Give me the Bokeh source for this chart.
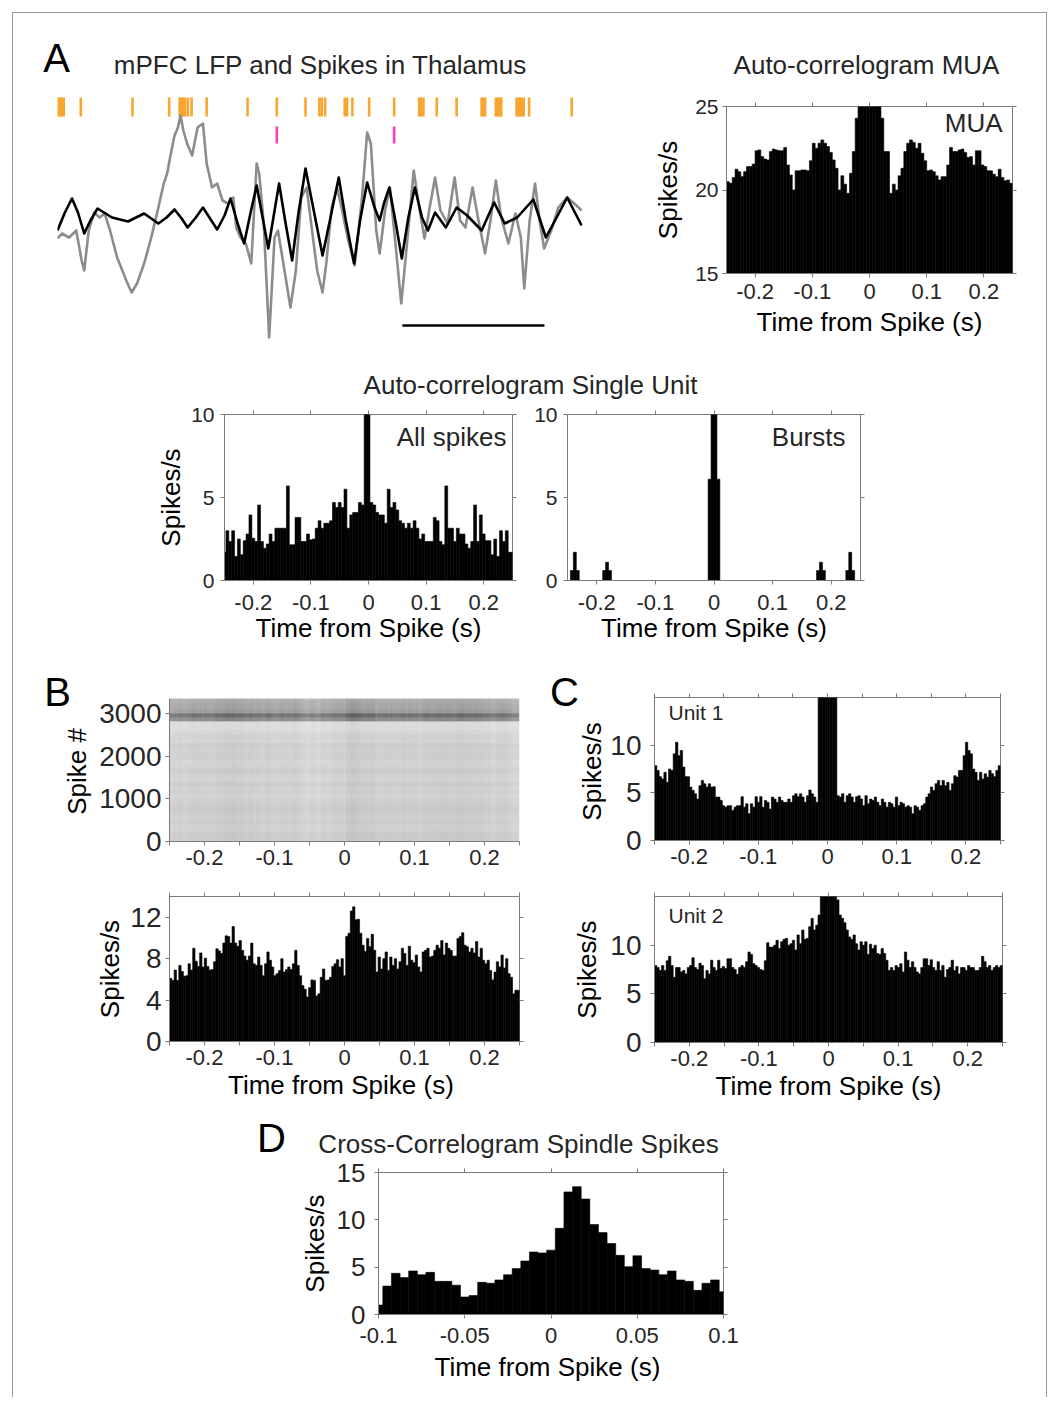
import math
import numpy as np
from bokeh.plotting import figure
from bokeh.models import Range1d, LinearAxis, FixedTicker, Label, Spacer, LinearColorMapper
from bokeh.layouts import row, column
from bokeh.palettes import Greys256
from bokeh.embed import file_html
from bokeh.resources import INLINE

# ======================= DATA =======================
# Panel A: mPFC LFP (time in ms, amplitude in arbitrary units)
lfp_filt_t = [0, 26, 51, 72, 94, 116, 141, 192, 248, 305, 355, 384, 412, 437, 458, 487, 512, 537, 562, 588,
              609, 634, 657, 679, 701, 722, 742, 760, 780, 803, 826, 848, 873, 902, 933, 961, 990, 1015, 1044, 1065,
              1090, 1116, 1134, 1149, 1168, 1191, 1212, 1235, 1258, 1283, 1304, 1329, 1367, 1405, 1442, 1493, 1537,
              1574, 1618, 1675, 1719, 1757, 1794, 1845]
lfp_filt_v = [0, 18, 32, 18, -3, 10, 22, 13, 9, 17, 7, 13, 21, 12, 3, 13, 23, 12, 1, 15,
              32, 7, -13, 17, 45, 13, -18, 13, 47, 7, -30, 17, 62, 20, -25, 13, 53, 10, -33, 10,
              48, 23, 10, 27, 43, 7, -28, 13, 43, 13, 0, 18, 3, 23, 15, 0, 28, 7, 13, 31, -7, 13, 33, 5]
lfp_raw_t = [0, 16, 41, 66, 85, 94, 110, 129, 148, 166, 185, 210, 242, 261, 280, 305, 330, 355, 374, 386,
             399, 412, 424, 433, 443, 456, 474, 493, 512, 525, 544, 562, 581, 600, 619, 629, 644, 663, 682, 701,
             710, 726, 745, 764, 776, 795, 820, 839, 858, 877, 896, 914, 933, 946, 965, 984, 1002, 1021, 1046, 1072,
             1090, 1103, 1122, 1134, 1153, 1170, 1191, 1210, 1229, 1254, 1273, 1292, 1310, 1329, 1348, 1373, 1398,
             1417, 1436, 1461, 1480, 1505, 1524, 1543, 1562, 1587, 1612, 1631, 1643, 1662, 1681, 1697, 1713, 1738,
             1763, 1794, 1819, 1845]
lfp_raw_v = [-8, -3, -7, 0, -30, -40, 0, 18, 13, 17, 0, -27, -50, -62, -53, -33, -7, 23, 47, 57,
             77, 95, 103, 115, 100, 87, 75, 103, 107, 67, 43, 47, 30, 27, 33, 3, -7, -13, -33, 67,
             57, 7, -107, -7, 0, -33, -77, -40, 33, 43, 0, -40, -62, -33, 23, 43, 20, -7, -35, 33,
             98, 87, 0, -23, 20, 43, -17, -73, -17, 60, 23, -8, 23, 53, 20, 7, 53, 10, 3, 43,
             13, -23, 10, 50, 13, -13, 17, -7, -58, 10, 47, 10, -18, 0, 23, 33, 27, 20]
mua_spike_times = [3, 9, 15, 22, 82, 264, 393, 430, 437, 443, 449, 459, 472, 525, 669, 772, 873, 922, 930, 942,
                   1011, 1019, 1038, 1097, 1185, 1273, 1279, 1288, 1335, 1405, 1493, 1499, 1505, 1543, 1549,
                   1556, 1562, 1616, 1622, 1628, 1634, 1641, 1660, 1810]
unit_spike_times = [772, 1185]
scale_bar_start_ms = 1214
scale_bar_ms = 500

# Panel A right: MUA auto-correlogram (100 bins of 5 ms, -0.25..0.25 s)
mua_rate = [20.5, 20.4, 20.75, 21.25, 21.1, 20.8, 21.1, 21.4, 21.4, 21.55,
            22.35, 22.4, 22.0, 21.85, 21.8, 22.3, 22.45, 22.4, 22.35, 22.35,
            22.55, 21.5, 20.9, 20.0, 21.15, 21.15, 21.2, 21.2, 21.15, 21.75,
            22.8, 22.5, 22.8, 23.0, 22.8, 22.6, 22.25, 21.8, 21.3, 20.0,
            20.85, 20.35, 19.8, 21.0, 22.3, 24.3, 27, 27, 27, 27,
            27, 27, 27, 27, 24.3, 22.3, 22.3, 19.8, 20.35, 20.0,
            20.85, 21.3, 22.3, 22.8, 23.0, 22.85, 22.5, 22.8, 22.2, 21.75,
            21.15, 21.2, 21.1, 20.85, 20.6, 20.8, 20.8, 21.5, 22.55, 22.3,
            22.3, 22.4, 22.45, 22.25, 21.95, 22.0, 21.5, 22.35, 22.35, 21.5,
            21.4, 21.15, 21.15, 20.95, 20.8, 21.25, 20.75, 20.55, 20.6, 20.4]

# Single unit auto-correlogram, all spikes (bins centred on multiples of 5 ms)
single_all_rate = [1.7, 3.0, 2.35, 3.0, 1.45, 2.5, 1.55, 2.4, 2.8, 3.95,
                   2.55, 2.35, 4.55, 2.35, 1.95, 2.2, 2.8, 2.35, 3.15, 3.15,
                   3.15, 3.15, 5.7, 2.15, 2.15, 3.8, 3.8, 2.35, 2.35, 2.8,
                   2.45, 2.5, 3.15, 3.6, 3.15, 3.45, 3.45, 3.6, 4.7, 4.4,
                   4.7, 4.4, 5.5, 3.15, 3.95, 4.1, 4.1, 4.7, 4.55, 12,
                   12, 4.7, 4.55, 4.1, 3.95, 3.95, 3.45, 5.5, 4.4, 4.7,
                   4.25, 3.6, 3.45, 3.15, 3.45, 3.15, 3.6, 3.15, 2.5, 2.8,
                   2.35, 2.35, 2.35, 3.8, 3.6, 2.35, 2.15, 5.7, 3.15, 3.15,
                   2.35, 3.15, 2.8, 2.8, 2.2, 1.95, 2.35, 4.55, 2.35, 3.95,
                   2.8, 2.4, 2.4, 1.55, 2.5, 1.45, 3.0, 2.35, 3.0, 1.7, 1.7]

# Bursts auto-correlogram (only non-empty 5 ms bins)
burst_bin_centers = [-0.2425, -0.2375, -0.2325, -0.1875, -0.1825, -0.1775, -0.0075, -0.0025,
                     0.0025, 0.0075, 0.1775, 0.1825, 0.1875, 0.2275, 0.2325, 0.2375]
burst_rate = [0.6, 1.7, 0.6, 0.6, 1.1, 0.6, 6.1, 12, 12, 6.1, 0.6, 1.1, 0.6, 0.6, 1.7, 0.6]

# Panel B raster: fraction of ink per block of 100 spikes (bottom to top)
raster_block_size = 100
raster_block_ink = [0.2, 0.21, 0.19, 0.18, 0.2, 0.19, 0.2, 0.21, 0.2, 0.19,
                    0.17, 0.19, 0.18, 0.2, 0.17, 0.18, 0.2, 0.18, 0.17, 0.19,
                    0.19, 0.18, 0.2, 0.17, 0.18, 0.16, 0.14, 0.14, 0.45, 0.55,
                    0.38, 0.35, 0.33, 0.3]

# Panel B histogram (151 bins over -0.25..0.25 s)
pop_rate_B = [6.1, 5.9, 6.9, 5.9, 7.35, 6.75, 6.3, 6.35, 7.5, 6.9,
              9.0, 7.75, 7.25, 8.55, 7.2, 8.05, 7.25, 6.9, 6.95, 7.7,
              8.95, 8.75, 8.5, 9.5, 10.2, 10.15, 9.5, 11.1, 9.5, 9.2,
              9.75, 8.8, 8.25, 7.85, 8.25, 9.5, 7.5, 7.35, 8.15, 7.35,
              6.35, 7.5, 8.65, 7.85, 7.2, 6.35, 6.55, 6.85, 8.0, 6.7,
              6.95, 7.2, 6.95, 7.5, 8.8, 7.35, 6.35, 5.4, 5.05, 4.3,
              5.2, 5.95, 5.9, 4.4, 4.6, 6.2, 7.0, 5.9, 5.95, 6.2,
              7.25, 7.5, 7.9, 7.2, 8.0, 6.35, 10.15, 10.45, 12.6, 13.0,
              11.75, 11.8, 10.45, 9.3, 8.7, 9.95, 9.15, 10.35, 8.8, 6.7,
              8.15, 7.0, 8.0, 8.65, 6.85, 8.15, 7.35, 8.0, 7.0, 7.7,
              9.0, 8.5, 7.35, 9.2, 7.85, 7.6, 8.35, 7.2, 6.7, 8.65,
              8.8, 9.0, 8.15, 8.25, 8.8, 9.3, 9.0, 9.75, 8.35, 9.5,
              9.0, 8.8, 8.25, 8.25, 9.95, 10.15, 10.5, 9.3, 9.15, 8.65,
              9.0, 8.55, 9.65, 8.15, 9.0, 7.85, 7.5, 7.85, 6.85, 5.95,
              6.7, 7.7, 7.2, 8.35, 7.1, 8.0, 6.55, 6.2, 4.6, 4.95, 4.95]

# Panel C
unit1_rate = [7.85, 7.35, 6.7, 6.45, 7.15, 6.1, 7.5, 7.35, 9.1, 10.3,
              8.9, 9.45, 7.7, 6.7, 6.7, 5.6, 5.25, 4.9, 4.35, 5.75,
              6.3, 5.95, 5.6, 5.95, 5.6, 5.65, 4.55, 4.55, 4.2, 3.65,
              3.5, 3.65, 3.65, 3.15, 3.5, 3.65, 3.65, 4.6, 3.5, 3.85,
              2.8, 3.85, 3.5, 4.6, 4.0, 4.6, 3.5, 4.2, 4.0, 3.3,
              4.55, 4.35, 4.0, 4.55, 4.2, 4.0, 4.0, 4.35, 4.0, 4.7,
              4.9, 4.6, 4.9, 4.55, 4.0, 4.7, 5.3, 4.9, 4.55, 4.0,
              18, 18, 18, 18, 18, 18, 18, 18, 4.7, 4.55,
              4.9, 4.0, 4.7, 4.9, 4.55, 4.0, 4.6, 4.7, 4.35, 3.65,
              4.7, 3.85, 4.35, 4.2, 4.55, 4.0, 3.65, 4.35, 4.0, 3.5,
              4.0, 3.85, 3.5, 4.55, 3.65, 4.0, 3.85, 3.5, 3.65, 3.5,
              2.8, 3.65, 3.5, 3.15, 3.65, 3.85, 4.55, 4.9, 5.6, 5.25,
              5.95, 6.3, 5.75, 6.3, 5.75, 6.1, 5.25, 5.95, 6.8, 6.65,
              7.35, 7.35, 8.9, 10.3, 9.45, 9.1, 7.5, 7.15, 6.3, 7.15,
              6.45, 7.0, 6.65, 7.35, 7.0, 6.7, 7.35, 7.85]
unit2_rate = [7.9, 7.7, 7.4, 7.9, 7.4, 8.4, 8.85, 7.9, 6.7, 7.7,
              7.7, 7.25, 7.4, 7.05, 7.7, 7.9, 8.7, 7.7, 7.5, 8.15,
              7.9, 6.55, 7.4, 7.05, 8.45, 7.7, 7.4, 8.45, 7.6, 7.8,
              7.6, 8.6, 8.6, 7.7, 7.5, 7.0, 7.7, 7.9, 7.7, 8.3,
              9.3, 9.05, 8.1, 7.9, 7.7, 7.5, 7.4, 8.4, 10.25, 9.8,
              9.8, 10.0, 10.5, 9.65, 10.35, 10.6, 10.7, 10.0, 10.15, 10.5,
              9.5, 11.05, 10.15, 11.55, 10.6, 10.7, 11.9, 12.75, 11.55, 12.05,
              13.1, 17, 17, 17, 17, 17, 17, 17, 14.65, 13.1,
              12.75, 12.3, 11.55, 10.85, 10.6, 11.05, 10.15, 9.5, 10.35, 10.0,
              10.35, 9.05, 10.1, 9.65, 10.0, 9.15, 9.05, 9.65, 9.15, 8.45,
              7.4, 7.7, 7.4, 7.9, 7.7, 8.1, 7.25, 9.3, 8.45, 7.7,
              8.3, 7.7, 7.25, 7.05, 7.7, 8.6, 8.6, 7.9, 8.5, 7.7,
              7.4, 8.3, 7.4, 7.9, 6.7, 7.5, 7.7, 8.45, 7.4, 7.8,
              7.05, 7.7, 7.7, 7.4, 7.9, 7.7, 7.7, 7.4, 7.4, 7.7,
              8.85, 8.3, 7.7, 7.9, 7.4, 7.7, 7.9, 7.7, 7.9]

# Panel D cross-correlogram (5 ms bins centred on -0.1 .. 0.1 s)
cross_rate_D = [1.0, 3.0, 4.35, 3.9, 4.6, 4.2, 4.45, 3.5, 3.5, 3.1,
                1.85, 2.0, 3.4, 3.3, 3.65, 4.2, 4.85, 5.65, 6.6, 6.5,
                6.8, 9.1, 12.95, 13.5, 12.2, 9.5, 8.65, 7.5, 6.25, 5.05,
                6.2, 4.85, 4.7, 4.2, 4.6, 3.65, 3.5, 2.55, 3.3, 3.65, 2.4]

lag_ticks_01 = [-0.2, -0.1, 0, 0.1, 0.2]
lag_ticks_005 = [-0.25, -0.2, -0.15, -0.1, -0.05, 0, 0.05, 0.1, 0.15, 0.2, 0.25]
lag_ticks_D = [-0.1, -0.05, 0, 0.05, 0.1]

# ======================= STYLE =======================
FONT = "Liberation Sans"
AX = "#7a7a7a"
TXT = "#262626"
ORANGE = "#f8a531"
PINK = "#ff3fb2"
XT = 22  # x tick label size
GEO = {}


def fmt(t):
    if abs(t) < 1e-12:
        return "0"
    return ("%.3f" % t).rstrip("0").rstrip(".")


def make_plot(canvas, frame, xr, yr, axes=True, outline=True):
    cx0, cy0, cx1, cy1 = canvas
    fx0, fy0, fx1, fy1 = frame
    kw = dict(width=cx1 - cx0, height=cy1 - cy0, x_range=Range1d(*xr), y_range=Range1d(*yr),
              output_backend="svg", toolbar_location=None, title=None, frame_align=False,
              min_border_left=fx0 - cx0, min_border_right=cx1 - fx1,
              min_border_top=fy0 - cy0, min_border_bottom=cy1 - fy1)
    if not axes:
        kw.update(x_axis_type=None, y_axis_type=None)
    p = figure(**kw)
    p.grid.visible = False
    p.outline_line_color = AX if outline else None
    p.background_fill_color = "white"
    p.border_fill_color = "white"
    GEO[p.id] = (frame, xr, yr)
    return p


def text_fig(canvas):
    w = canvas[2] - canvas[0]
    h = canvas[3] - canvas[1]
    return make_plot(canvas, canvas, (0, w), (0, h), axes=False, outline=False)


def style_axis(ax, ticks, labeled, size, label=None, lab_standoff=2, standoff=4):
    ax.ticker = FixedTicker(ticks=ticks)
    ax.major_label_overrides = {t: (fmt(t) if any(abs(t - l) < 1e-9 for l in labeled) else "") for t in ticks}
    ax.axis_line_color = AX
    ax.major_tick_line_color = AX
    ax.major_tick_in = 0
    ax.major_tick_out = 4
    ax.minor_tick_line_color = None
    ax.major_label_standoff = standoff
    ax.major_label_text_font = FONT
    ax.major_label_text_font_size = f"{size}px"
    ax.major_label_text_color = TXT
    if label is not None:
        ax.axis_label = label
        ax.axis_label_text_font = FONT
        ax.axis_label_text_font_size = "26px"
        ax.axis_label_text_font_style = "normal"
        ax.axis_label_text_color = "#000000"
        ax.axis_label_standoff = lab_standoff


def mirror(p, xticks, yticks):
    for ticks, side in ((xticks, "above"), (yticks, "right")):
        a = LinearAxis(ticker=FixedTicker(ticks=ticks),
                       major_label_overrides={t: "" for t in ticks},
                       major_label_text_font_size="1px", major_label_standoff=0,
                       axis_line_color=None, major_tick_line_color=AX,
                       major_tick_in=0, major_tick_out=4, minor_tick_line_color=None)
        p.add_layout(a, side)


def put_text(p, ix, iy, s, size, align="center", color=TXT, angle=0.0):
    """iy is the vertical centre of the capitals, in page pixels."""
    (fx0, fy0, fx1, fy1), (x0, x1), (y0, y1) = GEO[p.id]
    dx = x0 + (ix - fx0) * (x1 - x0) / (fx1 - fx0)
    dy = y1 - (iy - fy0) * (y1 - y0) / (fy1 - fy0)
    p.add_layout(Label(x=dx, y=dy, text=s, text_font=FONT, text_font_size=f"{size}px",
                       text_align=align, text_baseline="middle", text_color=color, angle=angle))


def bars(p, centers, vals, width, bottom):
    p.vbar(x=centers, top=vals, width=width, bottom=bottom,
           fill_color="black", line_color="black", line_width=0.6)


def centers_for(n, lo, hi):
    w = (hi - lo) / n
    return [lo + (i + 0.5) * w for i in range(n)], w


# ======================= TITLES (row A) =======================
t1 = text_fig((13, 13, 1046, 88))
put_text(t1, 56, 57, "A", 40, color="#000000")
put_text(t1, 320, 64, "mPFC LFP and Spikes in Thalamus", 26)
put_text(t1, 866, 64, "Auto-correlogram MUA", 26)

# ======================= PANEL A: traces =======================
pA = make_plot((13, 88, 640, 355), (57, 92, 582, 342), (0, 1848), (-112, 138), axes=False, outline=False)
pA.segment(x0=mua_spike_times, x1=mua_spike_times, y0=[114] * len(mua_spike_times),
           y1=[133] * len(mua_spike_times), line_color=ORANGE, line_width=2.6)
pA.segment(x0=unit_spike_times, x1=unit_spike_times, y0=[87] * len(unit_spike_times),
           y1=[104] * len(unit_spike_times), line_color=PINK, line_width=2.6)
pA.line(lfp_raw_t, lfp_raw_v, line_color="#8c8c8c", line_width=2.6, line_join="round")
pA.line(lfp_filt_t, lfp_filt_v, line_color="black", line_width=2.6, line_join="round")
pA.segment(x0=[scale_bar_start_ms], x1=[scale_bar_start_ms + scale_bar_ms], y0=[-95], y1=[-95],
           line_color="black", line_width=2.6)

# ======================= PANEL A: MUA =======================
pM = make_plot((640, 88, 1046, 355), (726, 106, 1012, 273), (-0.25, 0.25), (15, 25))
c, w = centers_for(len(mua_rate), -0.25, 0.25)
bars(pM, c, mua_rate, w, 15)
style_axis(pM.xaxis[0], lag_ticks_01, lag_ticks_01, XT, "Time from Spike (s)", 5, standoff=6)
style_axis(pM.yaxis[0], [15, 20, 25], [15, 20, 25], 21, "Spikes/s", 9)
mirror(pM, lag_ticks_01, [15, 20, 25])
put_text(pM, 1002, 122, "MUA", 26, align="right")

# strip with the single unit title
t2 = text_fig((13, 355, 1046, 400))
put_text(t2, 530, 384, "Auto-correlogram Single Unit", 26)

# All spikes
pAll = make_plot((13, 400, 530, 657), (224, 414, 512, 580), (-0.25, 0.25), (0, 10))
c_all = [-0.25 + 0.005 * k for k in range(len(single_all_rate))]
bars(pAll, c_all, single_all_rate, 0.005, 0)
style_axis(pAll.xaxis[0], lag_ticks_01, lag_ticks_01, XT, "Time from Spike (s)", 0, standoff=10)
style_axis(pAll.yaxis[0], [0, 5, 10], [0, 5, 10], 21, "Spikes/s", 2, standoff=6)
mirror(pAll, lag_ticks_01, [0, 5, 10])
put_text(pAll, 506, 436, "All spikes", 26, align="right")

# Bursts
pBu = make_plot((530, 400, 1046, 657), (567, 414, 860, 580), (-0.25, 0.25), (0, 10))
bars(pBu, burst_bin_centers, burst_rate, 0.005, 0)
style_axis(pBu.xaxis[0], lag_ticks_01, lag_ticks_01, XT, "Time from Spike (s)", 0, standoff=10)
style_axis(pBu.yaxis[0], [0, 5, 10], [0, 5, 10], 21, standoff=6)
mirror(pBu, lag_ticks_01, [0, 5, 10])
put_text(pBu, 845, 436, "Bursts", 26, align="right")

# ======================= PANEL B: raster =======================
tB = text_fig((13, 657, 92, 880))
put_text(tB, 57, 691, "B", 40, color="#000000")
put_text(tB, 76, 771, "Spike #", 26, color="#000000", angle=math.pi / 2)

pR = make_plot((92, 657, 540, 880), (169, 698, 519, 841), (-0.25, 0.25), (0, 3350), outline=False)
rate_arr = np.array(pop_rate_B)
mod = (rate_arr / rate_arr.mean()) ** 0.3
ink = np.array(raster_block_ink)[:, None] * mod[None, :]
img = np.clip(1.0 - ink, 0, 1)
pR.image(image=[img], x=-0.25, y=0, dw=0.5, dh=raster_block_size * len(raster_block_ink),
         color_mapper=LinearColorMapper(palette=Greys256, low=0, high=1), level="image")
style_axis(pR.xaxis[0], lag_ticks_005, lag_ticks_01, XT)
style_axis(pR.yaxis[0], [0, 1000, 2000, 3000], [0, 1000, 2000, 3000], 28)

# ======================= PANEL C: unit 1 =======================
tC = text_fig((540, 657, 606, 880))
put_text(tC, 564, 691, "C", 40, color="#000000")
put_text(tC, 591, 771, "Spikes/s", 26, color="#000000", angle=math.pi / 2)

pU1 = make_plot((606, 657, 1046, 880), (654, 697, 1000, 840), (-0.25, 0.25), (0, 15))
c, w = centers_for(len(unit1_rate), -0.25, 0.25)
bars(pU1, c, unit1_rate, w, 0)
style_axis(pU1.xaxis[0], lag_ticks_005, lag_ticks_01, XT)
style_axis(pU1.yaxis[0], [0, 5, 10], [0, 5, 10], 28, standoff=9)
mirror(pU1, lag_ticks_005, [0, 5, 10])
put_text(pU1, 668, 712, "Unit 1", 21, align="left")

# ======================= PANEL B: histogram =======================
pP = make_plot((13, 880, 540, 1112), (169, 896, 519, 1041), (-0.25, 0.25), (0, 14))
c, w = centers_for(len(pop_rate_B), -0.25, 0.25)
bars(pP, c, pop_rate_B, w, 0)
style_axis(pP.xaxis[0], lag_ticks_005, lag_ticks_01, XT, "Time from Spike  (s)", 2)
style_axis(pP.yaxis[0], [0, 4, 8, 12], [0, 4, 8, 12], 28, "Spikes/s", 2)
mirror(pP, lag_ticks_005, [0, 4, 8, 12])

# ======================= PANEL C: unit 2 =======================
pU2 = make_plot((540, 880, 1046, 1112), (654, 896, 1002, 1042), (-0.25, 0.25), (0, 15))
c, w = centers_for(len(unit2_rate), -0.25, 0.25)
bars(pU2, c, unit2_rate, w, 0)
style_axis(pU2.xaxis[0], lag_ticks_005, lag_ticks_01, XT, "Time from Spike (s)", 2)
style_axis(pU2.yaxis[0], [0, 5, 10], [0, 5, 10], 28, "Spikes/s", 5, standoff=9)
mirror(pU2, lag_ticks_005, [0, 5, 10])
put_text(pU2, 668, 915, "Unit 2", 21, align="left")

# ======================= PANEL D =======================
t5 = text_fig((13, 1112, 1046, 1158))
put_text(t5, 271, 1137, "D", 40, color="#000000")
put_text(t5, 518, 1143, "Cross-Correlogram Spindle Spikes", 26)

pD = make_plot((240, 1158, 760, 1397), (378, 1172, 723, 1314), (-0.1, 0.1), (0, 15))
c_d = [-0.1 + 0.005 * k for k in range(len(cross_rate_D))]
bars(pD, c_d, cross_rate_D, 0.005, 0)
style_axis(pD.xaxis[0], lag_ticks_D, lag_ticks_D, XT, "Time from Spike  (s)", 6, standoff=9)
style_axis(pD.yaxis[0], [0, 5, 10, 15], [0, 5, 10, 15], 26, "Spikes/s", 4, standoff=9)
mirror(pD, lag_ticks_D, [0, 5, 10, 15])

# ======================= LAYOUT =======================
content = column(
    t1,
    row(pA, pM),
    t2,
    row(pAll, pBu),
    row(tB, pR, tC, pU1),
    row(pP, pU2),
    t5,
    row(Spacer(width=227, height=239), pD, Spacer(width=286, height=239)),
)


def rule(w, h):
    return Spacer(width=w, height=h, styles={"background-color": "#9a9a9a"})


outer = column(
    Spacer(width=1047, height=12),
    row(Spacer(width=12, height=1), rule(1035, 1)),
    row(Spacer(width=12, height=1384), rule(1, 1384), content, rule(1, 1384)),
)

with open("out.html", "w") as f:
    f.write(file_html(outer, INLINE, title="Spindle spikes"))
